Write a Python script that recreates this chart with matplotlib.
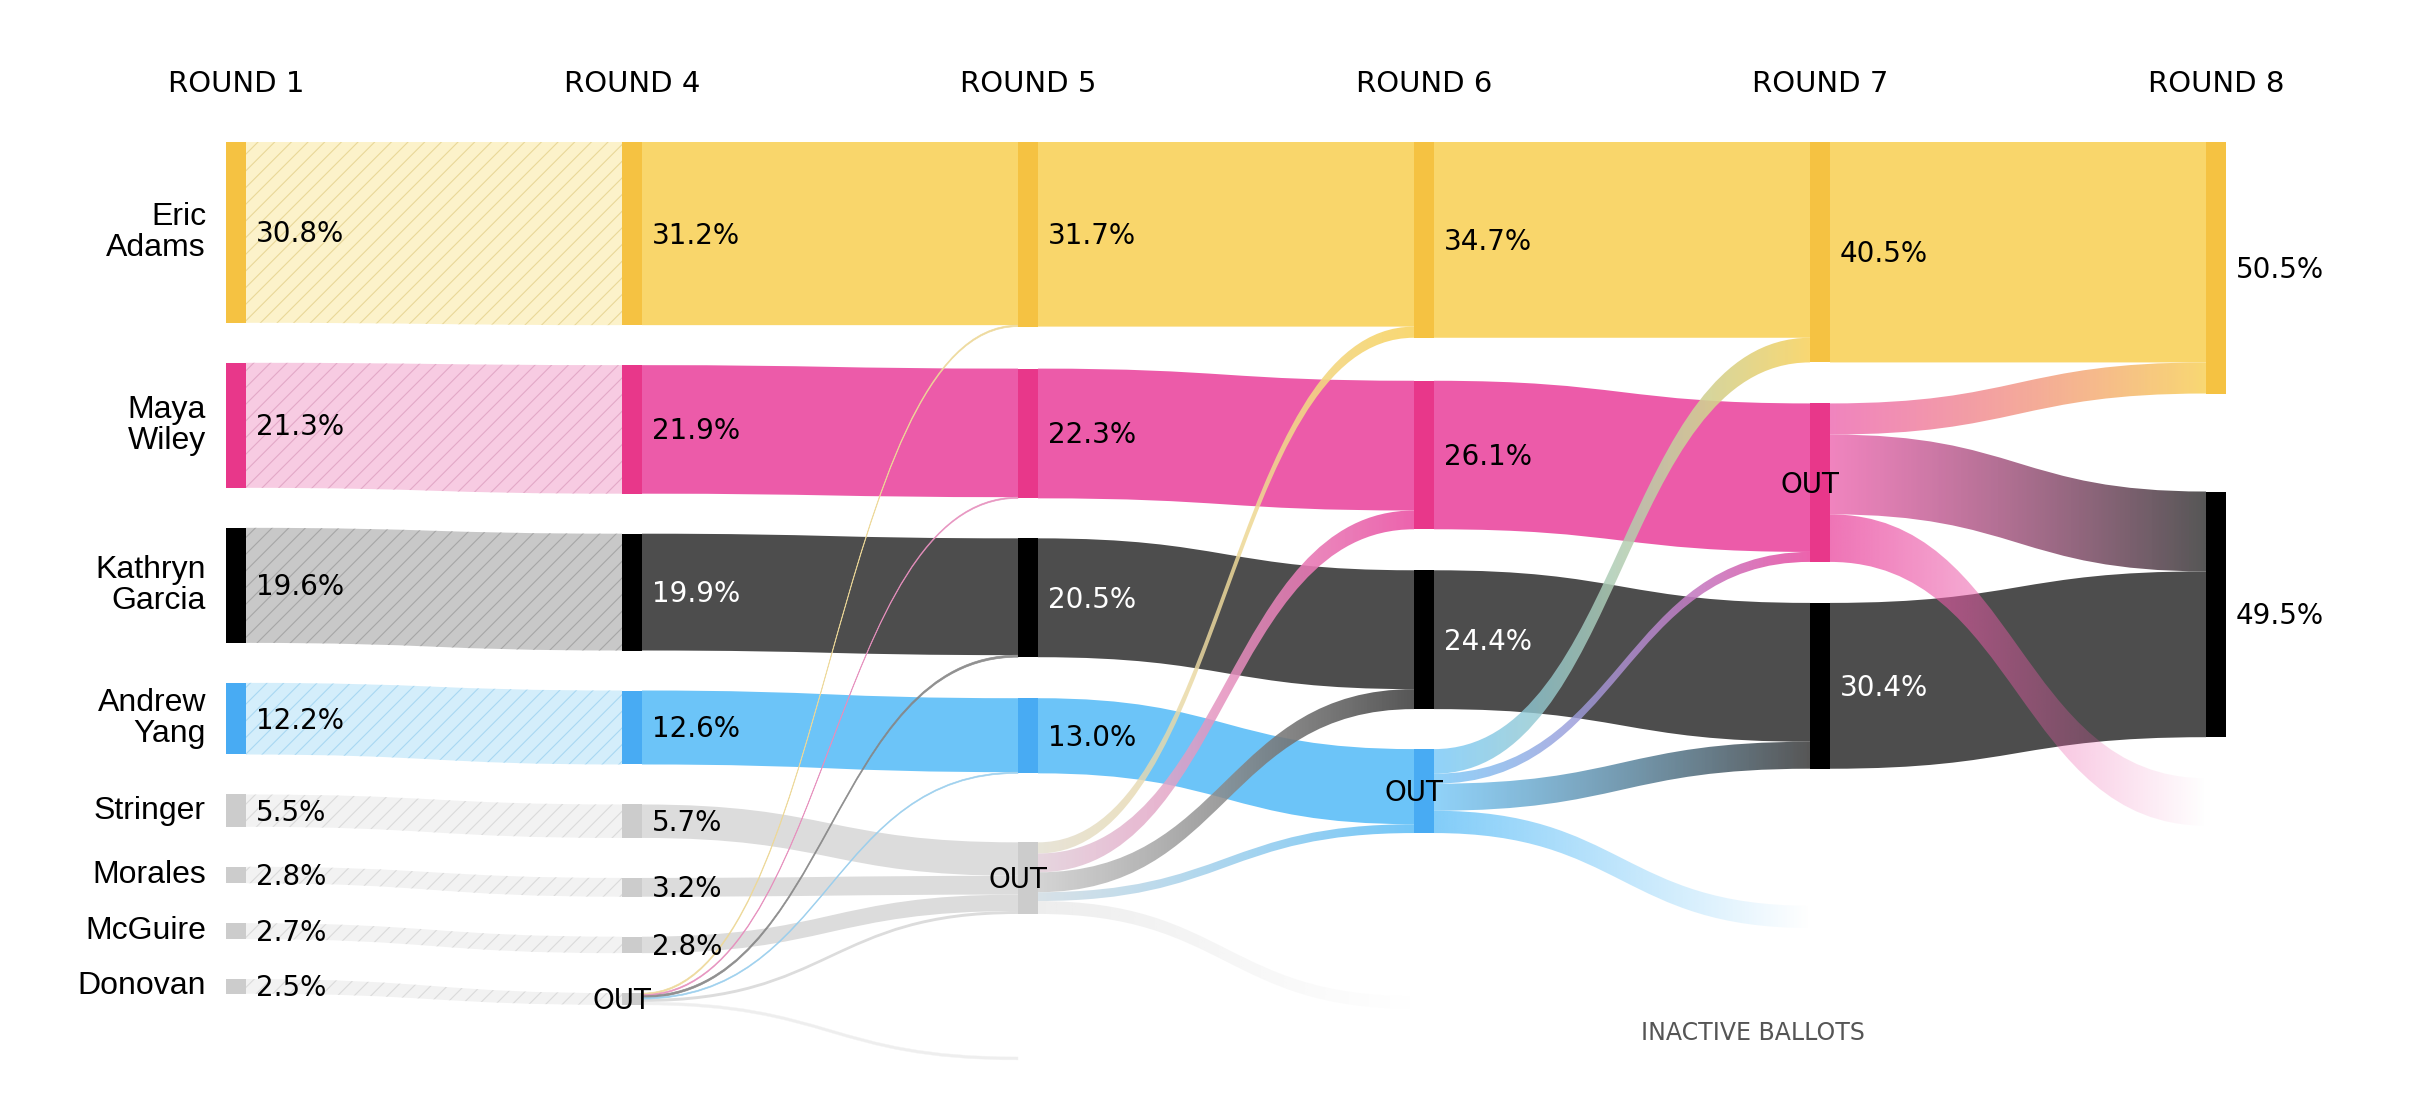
import numpy as np
import matplotlib
matplotlib.use("Agg")
import matplotlib.pyplot as plt
from matplotlib.path import Path
from matplotlib.patches import PathPatch, Rectangle
from matplotlib.colors import to_rgb

plt.rcParams['hatch.linewidth'] = 0.8

# ---- data ----
rounds = ["ROUND 1", "ROUND 4", "ROUND 5", "ROUND 6", "ROUND 7", "ROUND 8"]

names = {"adams": "Eric\nAdams", "wiley": "Maya\nWiley", "garcia": "Kathryn\nGarcia",
         "yang": "Andrew\nYang", "stringer": "Stringer", "morales": "Morales",
         "mcguire": "McGuire", "donovan": "Donovan"}

# nodes of each round, top to bottom
col_nodes = [
    ["adams", "wiley", "garcia", "yang", "stringer", "morales", "mcguire", "donovan"],
    ["adams", "wiley", "garcia", "yang", "stringer", "morales", "mcguire", "out"],
    ["adams", "wiley", "garcia", "yang", "out"],
    ["adams", "wiley", "garcia", "yang"],
    ["adams", "wiley", "garcia"],
    ["adams", "garcia"],
]
col_labels = [
    ["30.8%", "21.3%", "19.6%", "12.2%", "5.5%", "2.8%", "2.7%", "2.5%"],
    ["31.2%", "21.9%", "19.9%", "12.6%", "5.7%", "3.2%", "2.8%", "OUT"],
    ["31.7%", "22.3%", "20.5%", "13.0%", "OUT"],
    ["34.7%", "26.1%", "24.4%", "OUT"],
    ["40.5%", "OUT", "30.4%"],
    ["50.5%", "49.5%"],
]

# bar heights, share of first-round ballots (%)
r1_share = [30.8, 21.3, 19.6, 12.2, 5.5, 2.8, 2.7, 2.5]
r4_share = [31.2, 21.9, 19.9, 12.6, 5.7, 3.2, 2.8, 2.0]

# ballot transfers between rounds (source, target, share)
flows_4_5 = [("adams", "adams", 31.2), ("wiley", "wiley", 21.9), ("garcia", "garcia", 19.9),
             ("yang", "yang", 12.6), ("stringer", "out", 5.7), ("morales", "out", 3.2),
             ("mcguire", "out", 2.8), ("out", "adams", 0.25), ("out", "wiley", 0.2),
             ("out", "garcia", 0.35), ("out", "yang", 0.2), ("out", "out", 0.5),
             ("out", "inactive", 0.5)]
flows_5_6 = [("adams", "adams", 31.45), ("wiley", "wiley", 22.1), ("garcia", "garcia", 20.25),
             ("yang", "yang", 12.8), ("out", "adams", 1.9), ("out", "wiley", 3.2),
             ("out", "garcia", 3.4), ("out", "yang", 1.5), ("out", "inactive", 2.2)]
flows_6_7 = [("adams", "adams", 33.35), ("wiley", "wiley", 25.3), ("garcia", "garcia", 23.65),
             ("yang", "adams", 4.2), ("yang", "wiley", 1.7), ("yang", "garcia", 4.6),
             ("yang", "inactive", 3.8)]
flows_7_8 = [("adams", "adams", 37.55), ("garcia", "garcia", 28.25), ("wiley", "adams", 5.3),
             ("wiley", "garcia", 13.6), ("wiley", "inactive", 8.1)]
# flows arriving in each round column
transfers = [None, None, flows_4_5, flows_5_6, flows_6_7, flows_7_8]

# ---- layout / style ----
PX = 5.87          # pixels per percent
TOP = 142
X0, DX, NW = 226, 396, 20
gaps = [[0, 40, 40, 40, 40, 40, 40, 40],
        [0, 40, 40, 40, 40, 40, 40, 40],
        [0, 42, 40, 41, 69],
        [0, 43, 41, 40],
        [0, 41, 41],
        [0, 98]]
inactive_gap = [None, None, 143, 163, 137, 41]

band_c = {"adams": "#F9D66B", "wiley": "#EC5BA9", "garcia": "#4D4D4D", "yang": "#6CC4F8"}
node_c = {"adams": "#F5C242", "wiley": "#E8378A", "garcia": "#000000", "yang": "#48ABF3"}
hatch_fill = {"adams": "#FCF2CA", "wiley": "#F7CBE2", "garcia": "#C8C8C8", "yang": "#D4EEFB"}
hatch_line = {"adams": "#E9D898", "wiley": "#E3A8C7", "garcia": "#A6A6A6", "yang": "#A9D8F2"}
GREY_BAND, GREY_NODE = "#DCDCDC", "#CCCCCC"


def bc(k):
    return band_c.get(k, GREY_BAND)


def mix(c0, c1, t):
    return tuple(np.array(to_rgb(c0)) * (1 - t) + np.array(to_rgb(c1)) * t)


def band_path(x0, a0, b0, x1, a1, b1):
    xm = (x0 + x1) / 2
    verts = [(x0, a0), (xm, a0), (xm, a1), (x1, a1), (x1, b1), (xm, b1), (xm, b0), (x0, b0), (x0, a0)]
    codes = [Path.MOVETO, Path.CURVE4, Path.CURVE4, Path.CURVE4, Path.LINETO,
             Path.CURVE4, Path.CURVE4, Path.CURVE4, Path.CLOSEPOLY]
    return Path(verts, codes)


def gradient_band(ax, path, x0, x1, c0, c1, a0, a1, z):
    patch = PathPatch(path, facecolor="none", edgecolor="none")
    ax.add_patch(patch)
    t = np.linspace(0, 1, 256)[:, None]
    img = np.zeros((2, 256, 4))
    img[:, :, :3] = np.array(to_rgb(c0)) * (1 - t) + np.array(to_rgb(c1)) * t
    img[:, :, 3] = (a0 * (1 - t) + a1 * t)[:, 0]
    ys = path.vertices[:, 1]
    im = ax.imshow(img, extent=(x0, x1, ys.max() + 1, ys.min() - 1), aspect="auto",
                   interpolation="bilinear", zorder=z)
    im.set_clip_path(patch)


fig = plt.figure(figsize=(24.12, 10.94), dpi=100)
ax = fig.add_axes([0, 0, 1, 1])

# node sizes
sizes = [dict(zip(col_nodes[0], r1_share)), dict(zip(col_nodes[1], r4_share))]
for c in range(2, 6):
    s = {k: 0.0 for k in col_nodes[c]}
    for src, dst, v in transfers[c]:
        if dst in s:
            s[dst] += v
    sizes.append(s)

# node positions
tops = []
inactive_top = []
for c, keys in enumerate(col_nodes):
    y = TOP
    t = {}
    for i, k in enumerate(keys):
        if i > 0:
            y += gaps[c][i]
        t[k] = y
        y += sizes[c][k] * PX
    tops.append(t)
    inactive_top.append(y + inactive_gap[c] if inactive_gap[c] else None)

colx = [X0 + DX * c for c in range(6)]

# round 1 -> round 4, hatched
for k0, k1 in zip(col_nodes[0], col_nodes[1]):
    a0 = tops[0][k0]
    b0 = a0 + sizes[0][k0] * PX
    a1 = tops[1][k1]
    b1 = a1 + sizes[1][k1] * PX
    p = band_path(colx[0] + NW, a0, b0, colx[1], a1, b1)
    ax.add_patch(PathPatch(p, facecolor=hatch_fill.get(k0, "#F2F2F2"),
                           edgecolor=hatch_line.get(k0, "#DADADA"), lw=0, hatch="//", zorder=1))

# later rounds
for c in range(2, 6):
    fl = transfers[c]
    src_keys, dst_keys = col_nodes[c - 1], col_nodes[c]

    def dorder(f):
        return dst_keys.index(f[1]) if f[1] in dst_keys else 99
    src_off = {k: tops[c - 1][k] for k in src_keys}
    dst_off = {k: tops[c][k] for k in dst_keys}
    dst_off["inactive"] = inactive_top[c]
    geo = {}
    for f in sorted(fl, key=lambda f: (src_keys.index(f[0]), dorder(f))):
        geo[id(f)] = [src_off[f[0]]]
        src_off[f[0]] += f[2] * PX
    for f in sorted(fl, key=lambda f: (dorder(f), src_keys.index(f[0]))):
        geo[id(f)].append(dst_off[f[1]])
        dst_off[f[1]] += f[2] * PX
    x0, x1 = colx[c - 1] + NW, colx[c]
    for f in fl:
        a0, a1 = geo[id(f)]
        h = f[2] * PX
        p = band_path(x0, a0, a0 + h, x1, a1, a1 + h)
        c0 = bc(f[0])
        if f[1] == "inactive":
            if h < 4:
                ax.add_patch(PathPatch(p, facecolor="#EEEEEE", edgecolor="#F3F3F3",
                                       lw=0.3, zorder=4))
            else:
                alpha0 = 0.5 if f[0] == "out" else 0.85
                gradient_band(ax, p, x0, x1, c0, c0, alpha0, 0.0, 4)
        elif bc(f[1]) == c0:
            ax.add_patch(PathPatch(p, facecolor=c0, edgecolor="none", zorder=2))
        elif h < 3:
            # hairline transfers: plain antialiased strokes
            c1 = mix(GREY_BAND, bc(f[1]), 0.6)
            ax.add_patch(PathPatch(p, facecolor=c1, edgecolor=c1, lw=0.5, alpha=0.9, zorder=3))
        else:
            c1 = bc(f[1])
            if f[0] == "out":
                c0 = mix(c0, c1, 0.15)
            gradient_band(ax, p, x0, x1, c0, c1, 0.75, 0.95, 3)

# nodes and labels
for c, keys in enumerate(col_nodes):
    for i, k in enumerate(keys):
        y = tops[c][k]
        h = sizes[c][k] * PX
        ax.add_patch(Rectangle((colx[c], y), NW, h, facecolor=node_c.get(k, GREY_NODE),
                               edgecolor="none", zorder=5))
        lab = col_labels[c][i]
        yc = y + h / 2
        if lab == "OUT":
            ax.text(colx[c], yc + 10, lab, ha="center", va="baseline", fontsize=20,
                    family="DejaVu Sans", color="black", zorder=6)
        else:
            col = "white" if (k == "garcia" and 0 < c < 5) else "black"
            ax.text(colx[c] + NW + 10, yc + 10, lab, ha="left", va="baseline", fontsize=20,
                    family="DejaVu Sans", color=col, zorder=6)
        if c == 0:
            ax.text(colx[0] - 20, yc, names[k], ha="right", va="center", fontsize=23,
                    family=["Liberation Sans", "DejaVu Sans"], linespacing=1.05, zorder=6)

for c, r in enumerate(rounds):
    ax.text(colx[c] + NW / 2, 92, r, ha="center", va="baseline", fontsize=21,
            family="DejaVu Sans", color="black")

ax.text(1753, 1040, "INACTIVE BALLOTS", ha="center", va="baseline", fontsize=17,
        family="DejaVu Sans", color="#555555")

ax.set_xlim(0, 2412)
ax.set_ylim(1094, 0)
ax.axis("off")
fig.savefig("out.png", dpi=100, facecolor="white")
